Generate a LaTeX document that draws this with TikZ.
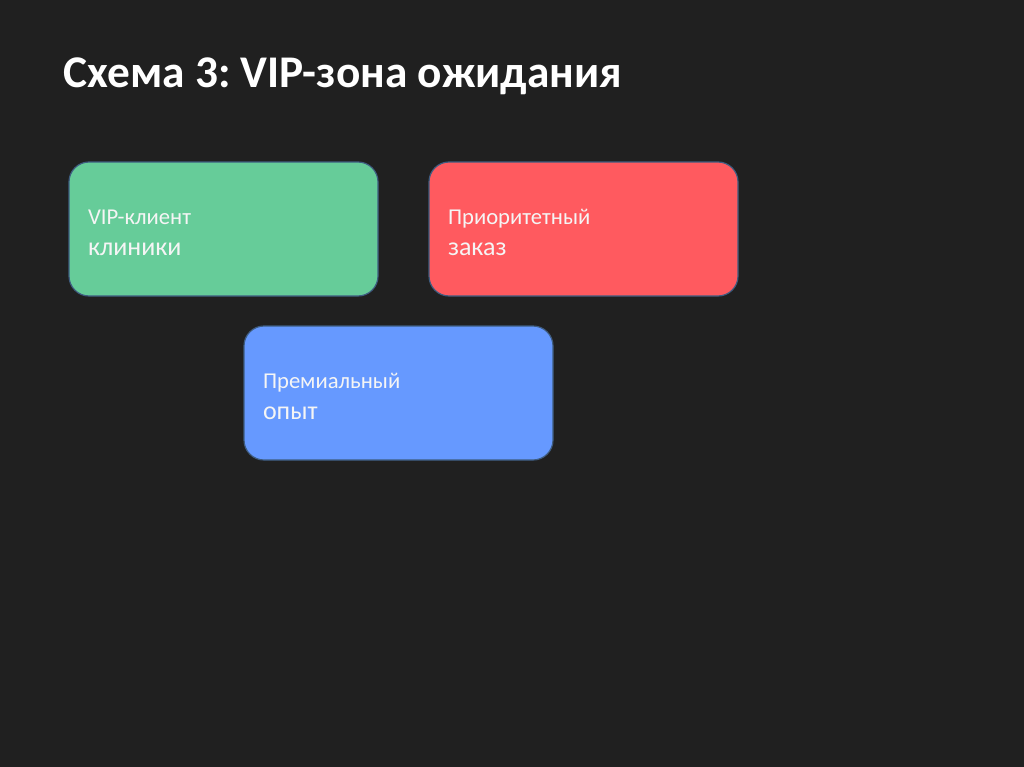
\documentclass[tikz,border=0pt]{standalone}
\usepackage{fontspec}
\setmainfont{Carlito}
\frenchspacing
\usetikzlibrary{positioning}
\definecolor{bgcolor}{RGB}{32,32,32}
\definecolor{clientcolor}{RGB}{102,204,153}
\definecolor{ordercolor}{RGB}{255,90,95}
\definecolor{premiumcolor}{RGB}{102,153,255}
\definecolor{bordercolor}{RGB}{62,92,128}
\definecolor{textcolor}{RGB}{245,245,245}
\tikzset{
    zone/.style={
        rectangle,
        rounded corners=15pt,
        minimum width=231.75pt,
        minimum height=100.5pt,
        text width=203.25pt,
        align=left,
        inner sep=0pt,
        draw=bordercolor,
        line width=0.9pt,
        text=textcolor,
        font=\fontsize{17pt}{23.25pt}\selectfont,
        execute at begin node=\rule{0pt}{16.5pt}
    },
    clientzone/.style={zone, fill=clientcolor},
    orderzone/.style={zone, fill=ordercolor},
    premiumzone/.style={zone, fill=premiumcolor}
}
\newcommand{\biglabel}[1]{{\fontsize{19.5pt}{23.25pt}\selectfont #1}}

\begin{document}
\begin{tikzpicture}[x=0.75pt, y=-0.75pt]
    \fill[bgcolor] (0,0) rectangle (1024,767);
    \useasboundingbox (0,0) rectangle (1024,767);
    \node[anchor=base west, text=white, font=\fontsize{34pt}{40pt}\selectfont\bfseries] (title) at (59,88) {Схема 3: VIP-зона ожидания};
    
    % Zones
    \node[clientzone] (client) at (223.5,229) {VIP-клиент\\\biglabel{клиники}};
    \node[orderzone] (order) at (583.5,229) {Приоритетный\\\biglabel{заказ}};
    \node[premiumzone] (premium) at (398.5,393) {Премиальный\\\biglabel{опыт}};
\end{tikzpicture}
\end{document}
